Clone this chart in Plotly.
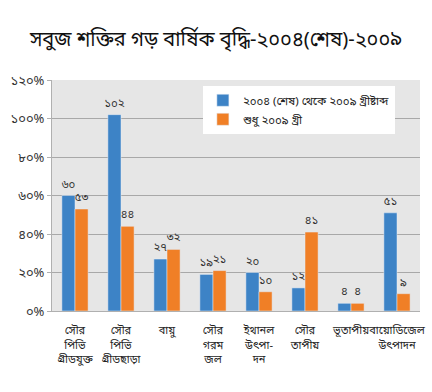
import plotly.graph_objects as go

categories = [
    "সৌর<br>পিভি<br>গ্রীডযুক্ত",
    "সৌর<br>পিভি<br>গ্রীডছাড়া",
    "বায়ু",
    "সৌর<br>গরম<br>জল",
    "ইথানল<br>উৎপা-<br>দন",
    "সৌর<br>তাপীয়",
    "ভূতাপীয়",
    "বায়োডিজেল<br>উৎপাদন",
]
series_2004_2009 = [60, 102, 27, 19, 20, 12, 4, 51]
series_2009 = [53, 44, 32, 21, 10, 41, 4, 9]
series_names = ["২০০৪ (শেষ) থেকে ২০০৯ খ্রীষ্টাব্দ", "শুধু ২০০৯ খ্রী"]
y_ticks = [0, 20, 40, 60, 80, 100, 120]
title_text = "সবুজ শক্তির গড় বার্ষিক বৃদ্ধি-২০০৪(শেষ)-২০০৯"

BN = str.maketrans("0123456789", "০১২৩৪৫৬৭৮৯")
def bn(v):
    return str(v).translate(BN)

FONT = "Noto Sans Bengali, Lohit Bengali, FreeSans, Noto Sans, sans-serif"
x = list(range(len(categories)))

fig = go.Figure()
fig.add_trace(go.Bar(
    x=x, y=series_2004_2009, name=series_names[0], marker_color="#3d83c6",
    text=[bn(v) for v in series_2004_2009], textposition="outside",
    textfont=dict(size=11.5, color="#333333"), cliponaxis=False,
    constraintext="none",
))
fig.add_trace(go.Bar(
    x=x, y=series_2009, name=series_names[1], marker_color="#f07f26",
    text=[bn(v) for v in series_2009], textposition="outside",
    textfont=dict(size=11.5, color="#333333"), cliponaxis=False,
    constraintext="none",
))

fig.update_layout(
    width=432, height=392,
    margin=dict(l=52, r=12, t=80, b=81, autoexpand=False),
    paper_bgcolor="white",
    plot_bgcolor="#e6e6e6",
    font=dict(family=FONT, color="#222222", size=12),
    title=dict(text=title_text, x=0.5, xanchor="center", y=0.9, yanchor="middle",
               font=dict(size=20, color="#111111", family=FONT)),
    barmode="group", bargap=0.43, bargroupgap=0,
    showlegend=True,
    legend=dict(x=0.41, y=0.975, xanchor="left", yanchor="top",
                bgcolor="white", font=dict(size=11.5, color="#222222"),
                tracegroupgap=0, itemwidth=30),
)
fig.update_yaxes(
    range=[0, 120], tickvals=y_ticks, ticktext=[bn(v) + "%" for v in y_ticks],
    gridcolor="#a8a8a8", gridwidth=1, showline=True, linecolor="#b0b0b0",
    ticks="outside", ticklen=4, tickcolor="#b0b0b0",
    tickfont=dict(size=13, color="#333333"), zeroline=False,
)
fig.update_xaxes(
    tickvals=x, ticktext=categories, range=[-0.5, len(categories) - 0.5],
    showline=True, linecolor="#b0b0b0", tickfont=dict(size=11, color="#222222"),
    tickangle=0, ticklabelstandoff=9, automargin=False,
)

fig.write_html("out.html", config={"displayModeBar": False},
               post_script="document.body.style.margin='0';")
